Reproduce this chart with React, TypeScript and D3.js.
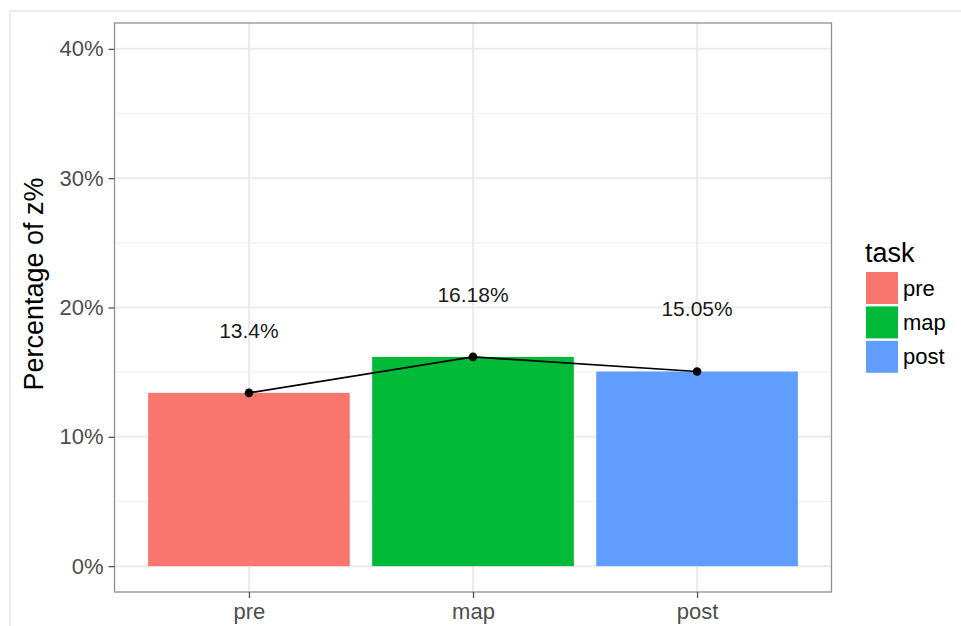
import React, { useEffect, useRef } from "react"
import * as d3 from "d3"

const WIDTH = 961
const HEIGHT = 626
const PANEL = { left: 114.5, right: 831.5, top: 23, bottom: 592 }

const tasks = ["pre", "map", "post"]
const values = [0.134, 0.1618, 0.1505]
const valueLabels = ["13.4%", "16.18%", "15.05%"]
const colors = ["#F8766D", "#00BA38", "#619CFF"]
const majorTicks = [0, 0.1, 0.2, 0.3, 0.4]
const minorTicks = [0.05, 0.15, 0.25, 0.35]

const FONT = "'Liberation Sans', Arial, Helvetica, sans-serif"

const App: React.FC = () => {
    const svgRef = useRef<SVGSVGElement | null>(null)

    useEffect(() => {
        if (!svgRef.current) return
        const svg = d3.select(svgRef.current)
        svg.selectAll("*").remove()

        const x = d3
            .scalePoint<string>()
            .domain(tasks)
            .range([PANEL.left, PANEL.right])
            .padding(0.6)
        const step = x.step()
        const barW = step * 0.9

        const y = d3
            .scaleLinear()
            .domain([-0.02, 0.42])
            .range([PANEL.bottom, PANEL.top])

        // outer frame of the screenshot
        svg.append("path")
            .attr("d", `M10,${HEIGHT} L10,11 L${WIDTH},11`)
            .attr("fill", "none")
            .attr("stroke", "#e6e6e6")
            .attr("stroke-width", 1.5)

        // grid
        const grid = svg.append("g")
        grid.selectAll("line.minor")
            .data(minorTicks)
            .enter()
            .append("line")
            .attr("x1", PANEL.left)
            .attr("x2", PANEL.right)
            .attr("y1", d => y(d))
            .attr("y2", d => y(d))
            .attr("stroke", "#f1f1f1")
            .attr("stroke-width", 1.2)
        grid.selectAll("line.major")
            .data(majorTicks)
            .enter()
            .append("line")
            .attr("x1", PANEL.left)
            .attr("x2", PANEL.right)
            .attr("y1", d => y(d))
            .attr("y2", d => y(d))
            .attr("stroke", "#ebebeb")
            .attr("stroke-width", 2)
        grid.selectAll("line.vert")
            .data(tasks)
            .enter()
            .append("line")
            .attr("x1", d => x(d)!)
            .attr("x2", d => x(d)!)
            .attr("y1", PANEL.top)
            .attr("y2", PANEL.bottom)
            .attr("stroke", "#ebebeb")
            .attr("stroke-width", 2)

        // bars
        svg.append("g")
            .selectAll("rect")
            .data(tasks)
            .enter()
            .append("rect")
            .attr("x", d => x(d)! - barW / 2)
            .attr("width", barW)
            .attr("y", (_, i) => y(values[i]))
            .attr("height", (_, i) => y(0) - y(values[i]))
            .attr("fill", (_, i) => colors[i])

        // line + points
        const line = d3
            .line<string>()
            .x(d => x(d)!)
            .y((_, i) => y(values[i]))
        svg.append("path")
            .attr("d", line(tasks)!)
            .attr("fill", "none")
            .attr("stroke", "#000")
            .attr("stroke-width", 1.7)
        svg.append("g")
            .selectAll("circle")
            .data(tasks)
            .enter()
            .append("circle")
            .attr("cx", d => x(d)!)
            .attr("cy", (_, i) => y(values[i]))
            .attr("r", 4.3)
            .attr("fill", "#000")

        // value labels
        svg.append("g")
            .selectAll("text")
            .data(tasks)
            .enter()
            .append("text")
            .attr("x", d => x(d)!)
            .attr("y", (_, i) => y(values[i] + 0.0485) + 7.5)
            .attr("text-anchor", "middle")
            .attr("font-family", FONT)
            .attr("font-size", 21)
            .attr("fill", "#1a1a1a")
            .text((_, i) => valueLabels[i])

        // panel border
        svg.append("rect")
            .attr("x", PANEL.left)
            .attr("y", PANEL.top)
            .attr("width", PANEL.right - PANEL.left)
            .attr("height", PANEL.bottom - PANEL.top)
            .attr("fill", "none")
            .attr("stroke", "#8f8f8f")
            .attr("stroke-width", 1.3)

        // y axis
        const yAxis = svg.append("g")
            .attr("transform", `translate(${PANEL.left},0)`)
            .call(
                d3.axisLeft(y)
                    .tickValues(majorTicks)
                    .tickFormat(d => `${Math.round(+d * 100)}%`)
                    .tickSize(6)
                    .tickPadding(5)
            )
        yAxis.select(".domain").remove()
        yAxis.selectAll("line").attr("stroke", "#555").attr("stroke-width", 1.3)
        yAxis.selectAll("text")
            .attr("font-family", FONT)
            .attr("font-size", 22)
            .attr("fill", "#4d4d4d")

        // x axis
        const xAxis = svg.append("g")
            .attr("transform", `translate(0,${PANEL.bottom})`)
            .call(d3.axisBottom(x).tickSize(6).tickPadding(5))
        xAxis.select(".domain").remove()
        xAxis.selectAll("line").attr("stroke", "#555").attr("stroke-width", 1.3)
        xAxis.selectAll("text")
            .attr("font-family", FONT)
            .attr("font-size", 22)
            .attr("fill", "#4d4d4d")

        // y title
        svg.append("text")
            .attr("transform", `translate(43,284) rotate(-90)`)
            .attr("text-anchor", "middle")
            .attr("font-family", FONT)
            .attr("font-size", 27)
            .attr("fill", "#000")
            .text("Percentage of z%")

        // legend
        const legend = svg.append("g")
        legend.append("text")
            .attr("x", 865)
            .attr("y", 262)
            .attr("font-family", FONT)
            .attr("font-size", 27)
            .attr("fill", "#000")
            .text("task")
        const items = legend.selectAll("g.item")
            .data(tasks)
            .enter()
            .append("g")
            .attr("transform", (_, i) => `translate(866,${272 + i * 34.4})`)
        items.append("rect")
            .attr("width", 32)
            .attr("height", 32)
            .attr("fill", (_, i) => colors[i])
        items.append("text")
            .attr("x", 37)
            .attr("y", 16)
            .attr("dy", "0.35em")
            .attr("font-family", FONT)
            .attr("font-size", 22)
            .attr("fill", "#000")
            .text(d => d)
    }, [])

    return (
        <svg
            ref={svgRef}
            width={WIDTH}
            height={HEIGHT}
            style={{ position: "absolute", left: 0, top: 0, background: "#fff" }}
        />
    )
}

export default App
